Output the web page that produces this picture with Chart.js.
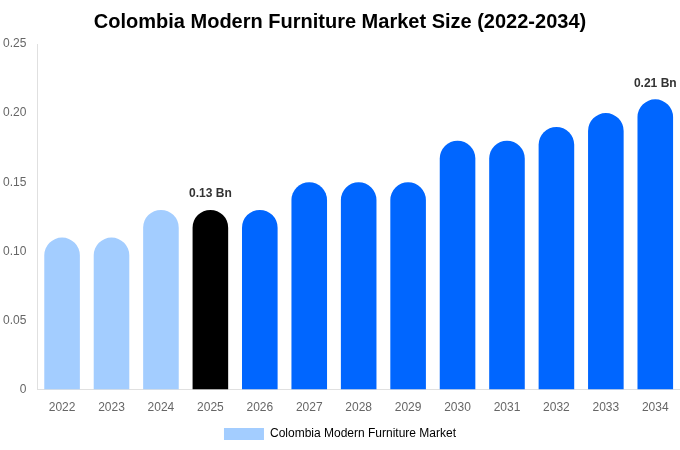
<!DOCTYPE html>
<html>
<head>
<meta charset="utf-8">
<script src="https://cdn.jsdelivr.net/npm/chart.js@4"></script>
<style>
  html, body { margin: 0; padding: 0; background: #fff; }
  #wrap { width: 680px; height: 450px; position: relative; }
</style>
</head>
<body>
<div id="wrap"><canvas id="myChart"></canvas></div>
<script>
// данные графика
const years = ['2022', '2023', '2024', '2025', '2026', '2027', '2028', '2029', '2030', '2031', '2032', '2033', '2034'];
const marketSize = [0.11, 0.11, 0.13, 0.13, 0.13, 0.15, 0.15, 0.15, 0.18, 0.18, 0.19, 0.20, 0.21];
const barColors = ['#a3cdff', '#a3cdff', '#a3cdff', '#000000', '#0066ff', '#0066ff', '#0066ff', '#0066ff', '#0066ff', '#0066ff', '#0066ff', '#0066ff', '#0066ff'];
const labelledBars = [3, 12];
const yTicks = [0, 0.05, 0.10, 0.15, 0.20, 0.25];

// подписи над отдельными столбцами
const barLabels = {
  id: 'barLabels',
  afterDatasetsDraw(chart) {
    let ctx = chart.ctx;
    let meta = chart.getDatasetMeta(0);
    ctx.save();
    ctx.font = 'bold 12px "Liberation Sans", Arial, sans-serif';
    ctx.fillStyle = '#333';
    ctx.textAlign = 'center';
    ctx.textBaseline = 'bottom';
    labelledBars.forEach(function(i) {
      let bar = meta.data[i];
      ctx.fillText(marketSize[i].toFixed(2) + ' Bn', bar.x, bar.y - 10);
    });
    ctx.restore();
  }
};

let myChart = new Chart(document.getElementById('myChart'), {
  type: 'bar',
  data: {
    labels: years,
    datasets: [{
      label: 'Colombia Modern Furniture Market',
      data: marketSize,
      backgroundColor: barColors,
      borderRadius: 20,
      borderSkipped: 'bottom',
      categoryPercentage: 1,
      barPercentage: 0.72
    }]
  },
  options: {
    responsive: true,
    maintainAspectRatio: false,
    animation: false,
    layout: { padding: { left: 0, right: 0, top: 0, bottom: 0 } },
    plugins: {
      title: {
        display: true,
        text: 'Colombia Modern Furniture Market Size (2022-2034)',
        color: '#000',
        font: { family: '"Liberation Sans", Arial, sans-serif', size: 20, weight: 'bold' },
        padding: { top: 10, bottom: 10 }
      },
      legend: {
        position: 'bottom',
        labels: {
          color: '#666',
          font: { family: '"Liberation Sans", Arial, sans-serif', size: 12 },
          boxWidth: 40,
          boxHeight: 12,
          generateLabels: function() {
            return [{ text: 'Colombia Modern Furniture Market', fillStyle: '#a3cdff', strokeStyle: '#a3cdff', lineWidth: 0 }];
          }
        }
      },
      tooltip: { enabled: false }
    },
    scales: {
      x: {
        grid: { display: false },
        border: { color: '#e0e0e0' },
        ticks: { color: '#666', font: { family: '"Liberation Sans", Arial, sans-serif', size: 12 } }
      },
      y: {
        min: 0,
        max: 0.25,
        afterBuildTicks: function(axis) {
          axis.ticks = yTicks.map(function(v) { return { value: v }; });
        },
        grid: { display: false },
        border: { color: '#e0e0e0' },
        ticks: {
          color: '#666',
          font: { family: '"Liberation Sans", Arial, sans-serif', size: 12 },
          callback: function(v) { return v === 0 ? '0' : v.toFixed(2); }
        }
      }
    }
  },
  plugins: [barLabels]
});
</script>
</body>
</html>
